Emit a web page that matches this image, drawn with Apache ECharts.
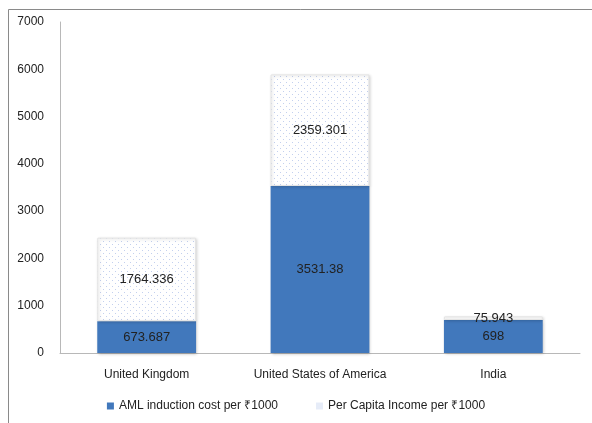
<!DOCTYPE html>
<html>
<head>
<meta charset="utf-8">
<script src="https://cdn.jsdelivr.net/npm/echarts@6/dist/echarts.min.js"></script>
<style>
html,body{margin:0;padding:0;background:#fff;}
#chart{width:592px;height:423px;}
</style>
</head>
<body>
<div id="chart"></div>
<script>
var categories = ['United Kingdom', 'United States of America', 'India'];
var amlCost = [673.687, 3531.38, 698];
var perCapita = [1764.336, 2359.301, 75.943];
var seriesNames = ['AML induction cost per \u20B91000', 'Per Capita Income per \u20B91000'];

var pc = document.createElement('canvas');
pc.width = 6; pc.height = 6;
var ctx = pc.getContext('2d');
ctx.fillStyle = '#ffffff';
ctx.fillRect(0, 0, 6, 6);
ctx.fillStyle = '#c3d0ee';
ctx.fillRect(1, 1, 1, 1);
ctx.fillRect(4, 4, 1, 1);

var font = 'Liberation Sans, Arial, sans-serif';
var chart = echarts.init(document.getElementById('chart'));
chart.setOption({
  animation: false,
  backgroundColor: '#fff',
  textStyle: { fontFamily: font },
  graphic: [{
    type: 'rect',
    shape: { x: 8.5, y: 9.5, width: 700, height: 600 },
    style: { fill: 'none', stroke: '#8a8a8a', lineWidth: 1 },
    silent: true
  }],
  grid: { left: 60, right: 12, top: 22, bottom: 70 },
  legend: {
    bottom: 6,
    left: 'center',
    itemWidth: 7,
    itemHeight: 7,
    itemGap: 38,
    icon: 'rect',
    textStyle: { fontFamily: font, fontSize: 12, color: '#222' },
    data: [
      { name: seriesNames[0] },
      { name: seriesNames[1], itemStyle: { color: '#e6ecf8', borderWidth: 0 } }
    ]
  },
  xAxis: {
    type: 'category',
    data: categories,
    axisLine: { lineStyle: { color: '#b8b8b8' } },
    axisTick: { show: false },
    axisLabel: { color: '#222', fontSize: 12, margin: 16, fontFamily: font }
  },
  yAxis: {
    type: 'value',
    min: 0, max: 7000, interval: 1000,
    axisLine: { show: true, lineStyle: { color: '#b8b8b8' } },
    axisTick: { show: false },
    splitLine: { show: false },
    axisLabel: { color: '#222', fontSize: 12, margin: 16, fontFamily: font, formatter: function (v) { return String(v); } }
  },
  series: [
    {
      name: seriesNames[0],
      type: 'bar',
      stack: 'total',
      data: amlCost,
      barWidth: '57%',
      itemStyle: { color: '#4178bc', shadowBlur: 3, shadowColor: 'rgba(0,0,0,0.25)', shadowOffsetX: 1, shadowOffsetY: 1 },
      label: { show: true, position: 'inside', color: '#222', fontSize: 13, fontFamily: font }
    },
    {
      name: seriesNames[1],
      type: 'bar',
      stack: 'total',
      data: perCapita,
      barWidth: '57%',
      itemStyle: { color: { image: pc, repeat: 'repeat' }, borderColor: '#e4e4e4', borderWidth: 1, shadowBlur: 3, shadowColor: 'rgba(0,0,0,0.15)', shadowOffsetX: 1, shadowOffsetY: 1 },
      label: { show: true, position: 'inside', color: '#222', fontSize: 13, fontFamily: font }
    }
  ]
});
</script>
</body>
</html>
